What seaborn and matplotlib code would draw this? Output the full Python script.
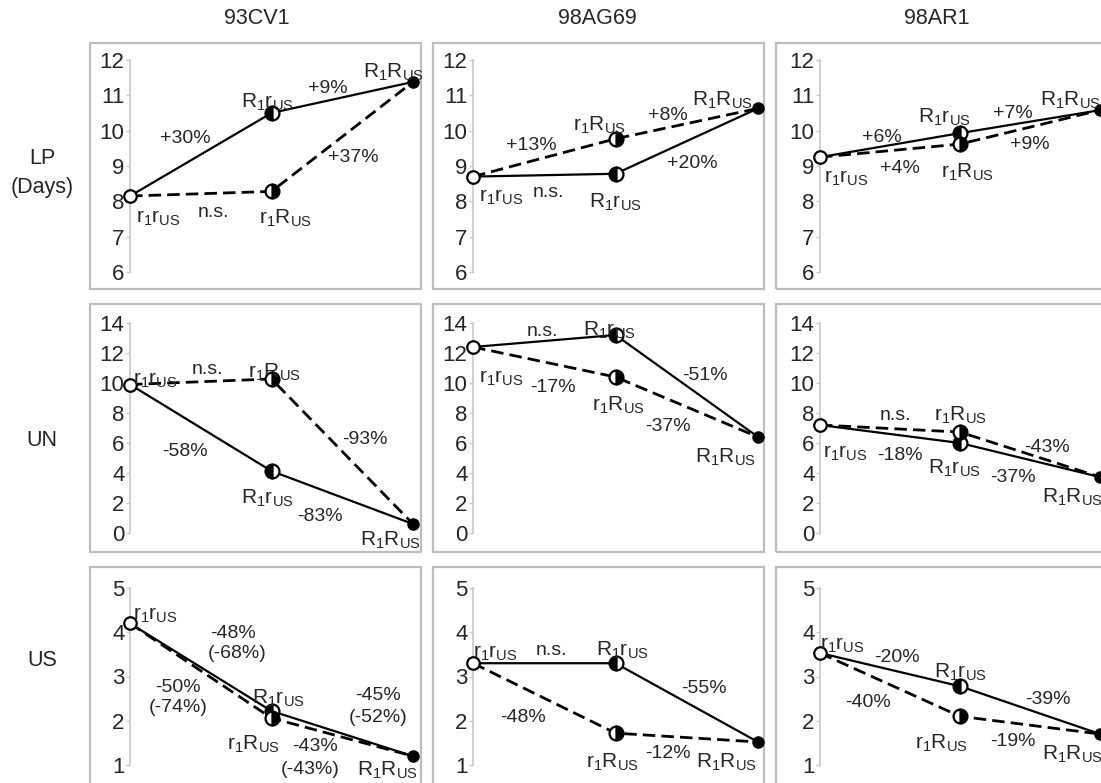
import matplotlib
matplotlib.use("Agg")
import matplotlib.pyplot as plt
from matplotlib.patches import Rectangle
import seaborn as sns
import pandas as pd

# ---------------- data ----------------
strains = ["93CV1", "98AG69", "98AR1"]
traits = ["LP", "UN", "US"]
row_labels = ["LP\n(Days)", "UN", "US"]

# genotype means per trait, one value per strain
LP_r1rUS = [8.15, 8.70, 9.25]
LP_R1rUS = [10.50, 8.78, 9.93]
LP_r1RUS = [8.28, 9.77, 9.62]
LP_R1RUS = [11.38, 10.63, 10.58]

UN_r1rUS = [9.90, 12.40, 7.20]
UN_R1rUS = [4.13, 13.20, 6.00]
UN_r1RUS = [10.27, 10.40, 6.73]
UN_R1RUS = [0.60, 6.40, 3.73]

US_r1rUS = [4.20, 3.30, 3.53]
US_R1rUS = [2.22, 3.30, 2.78]
US_r1RUS = [2.06, 1.72, 2.10]
US_R1RUS = [1.20, 1.52, 1.70]

values = {
    "LP": (LP_r1rUS, LP_R1rUS, LP_r1RUS, LP_R1RUS),
    "UN": (UN_r1rUS, UN_R1rUS, UN_r1RUS, UN_R1RUS),
    "US": (US_r1rUS, US_R1rUS, US_r1RUS, US_R1RUS),
}

y_ranges = {"LP": (6, 12, 1), "UN": (0, 14, 2), "US": (1, 5, 1)}

L_rr = r"r$_\mathrm{1}$r$_\mathrm{US}$"
L_Rr = r"R$_\mathrm{1}$r$_\mathrm{US}$"
L_rR = r"r$_\mathrm{1}$R$_\mathrm{US}$"
L_RR = r"R$_\mathrm{1}$R$_\mathrm{US}$"
GENO = {L_rr, L_Rr, L_rR, L_RR}

# text annotations per panel: (text, x, y) in data coordinates
annotations = {
    ("LP", 0): [("+30%", 0.39, 9.79), ("+9%", 1.40, 11.2), ("+37%", 1.58, 9.23), ("n.s.", 0.59, 7.67),
                (L_Rr, 0.97, 10.8), (L_rR, 1.10, 7.53), (L_rr, 0.20, 7.53), (L_RR, 1.86, 11.66)],
    ("LP", 1): [("+13%", 0.41, 9.57), ("+8%", 1.37, 10.44), ("+20%", 1.54, 9.08), ("n.s.", 0.53, 8.24),
                (L_rr, 0.20, 8.12), (L_Rr, 1.00, 7.98), (L_rR, 0.89, 10.16), (L_RR, 1.75, 10.87)],
    ("LP", 2): [("+6%", 0.44, 9.82), ("+4%", 0.57, 8.94), ("+7%", 1.38, 10.5), ("+9%", 1.50, 9.62),
                (L_rr, 0.19, 8.66), (L_Rr, 0.89, 10.39), (L_rR, 1.05, 8.83), (L_RR, 1.79, 10.87)],
    ("UN", 0): [(L_rr, 0.18, 10.2), ("n.s.", 0.55, 10.87), (L_rR, 1.02, 10.73), ("-58%", 0.39, 5.4),
                ("-93%", 1.66, 6.2), (L_Rr, 0.97, 2.33), ("-83%", 1.34, 1.07), (L_RR, 1.84, -0.47)],
    ("UN", 1): [("n.s.", 0.49, 13.4), (L_Rr, 0.96, 13.53), (L_rr, 0.20, 10.33), ("-17%", 0.56, 9.67),
                (L_rR, 1.02, 8.53), ("-51%", 1.63, 10.53), ("-37%", 1.37, 7.13), (L_RR, 1.77, 5.07)],
    ("UN", 2): [("n.s.", 0.54, 7.8), (L_rR, 1.00, 7.87), (L_rr, 0.18, 5.33), ("-18%", 0.57, 5.2),
                (L_Rr, 0.96, 4.33), ("-43%", 1.62, 5.73), ("-37%", 1.38, 3.67), (L_RR, 1.80, 2.4)],
    ("US", 0): [(L_rr, 0.18, 4.39), ("-48%", 0.73, 3.98), ("(-68%)", 0.76, 3.53), ("-50%", 0.34, 2.76),
                ("(-74%)", 0.34, 2.29), (L_Rr, 1.05, 2.51), (L_rR, 0.87, 1.47), ("-45%", 1.75, 2.58),
                ("(-52%)", 1.75, 2.08), ("-43%", 1.31, 1.41), ("(-43%)", 1.27, 0.89), (L_RR, 1.82, 0.89)],
    ("US", 1): [(L_rr, 0.16, 3.53), ("n.s.", 0.55, 3.58), (L_Rr, 1.05, 3.58), ("-48%", 0.35, 2.08),
                (L_rR, 0.98, 1.07), ("-12%", 1.37, 1.27), (L_RR, 1.78, 1.07), ("-55%", 1.62, 2.72)],
    ("US", 2): [(L_rr, 0.16, 3.71), ("-20%", 0.55, 3.42), (L_Rr, 1.00, 3.10), ("-40%", 0.34, 2.42),
                (L_rR, 0.87, 1.50), ("-39%", 1.63, 2.47), ("-19%", 1.38, 1.52), (L_RR, 1.80, 1.23)],
}

# ---------------- layout (pixels) ----------------
W, H = 1101, 783
col_axis = [(130, 413), (473, 758), (820, 1100)]
row_axis = [(60, 272), (323, 533), (588, 765)]
col_frame = [(90, 421), (433, 764), (776, 1112)]
row_frame = [(43, 289), (304, 552), (567, 792)]
title_x = [257, 597, 937]
row_label_y = [173, 440, 660]

sns.set_style("white")
plt.rcParams["font.family"] = ["Liberation Sans", "DejaVu Sans"]
plt.rcParams["mathtext.fontset"] = "custom"
plt.rcParams["mathtext.rm"] = "Liberation Sans"
plt.rcParams["mathtext.it"] = "Liberation Sans:italic"
plt.rcParams["mathtext.bf"] = "Liberation Sans:bold"

fig = plt.figure(figsize=(W / 100, H / 100), dpi=100)
fig.patch.set_facecolor("white")

FS = 14

for c, name in enumerate(strains):
    fig.text(title_x[c] / W, 1 - 18 / H, name, ha="center", va="center", fontsize=15.5)
for r, lab in enumerate(row_labels):
    fig.text(42 / W, 1 - row_label_y[r] / H, lab, ha="center", va="center", fontsize=15.5,
             linespacing=1.5)

for r, trait in enumerate(traits):
    rr, Rr, rR, RR = values[trait]
    lo, hi, step = y_ranges[trait]
    for c in range(3):
        # frame
        fx0, fx1 = col_frame[c]
        fy0, fy1 = row_frame[r]
        fig.add_artist(Rectangle((fx0 / W, 1 - fy1 / H), (fx1 - fx0) / W, (fy1 - fy0) / H,
                                 transform=fig.transFigure, fill=False, edgecolor="#bdbdbd",
                                 linewidth=1.6, zorder=0))
        ax0, ax1 = col_axis[c]
        ay0, ay1 = row_axis[r]
        ax = fig.add_axes([ax0 / W, 1 - ay1 / H, (ax1 - ax0) / W, (ay1 - ay0) / H])
        ax.patch.set_alpha(0)

        df = pd.DataFrame({
            "x": [0, 1, 2, 0, 1, 2],
            "y": [rr[c], Rr[c], RR[c], rr[c], rR[c], RR[c]],
            "path": ["R1 first"] * 3 + ["RUS first"] * 3,
        })
        sns.lineplot(data=df, x="x", y="y", style="path",
                     dashes={"R1 first": "", "RUS first": (4.5, 2.2)},
                     color="black", legend=False, ax=ax, sort=False)
        for ln, lw in zip(ax.lines, [1.6, 2.0]):
            ln.set_linewidth(lw)
            ln.set_clip_on(False)

        # markers
        ax.plot([0], [rr[c]], "o", ms=9, mfc="white", mec="black", mew=1.6, zorder=5, clip_on=False)
        ax.plot([1], [Rr[c]], "o", ms=10, fillstyle="left", mfc="black", mfcalt="white",
                mec="black", mew=1.6, zorder=5, clip_on=False)
        ax.plot([1], [rR[c]], "o", ms=10, fillstyle="right", mfc="black", mfcalt="white",
                mec="black", mew=1.6, zorder=5, clip_on=False)
        ax.plot([2], [RR[c]], "o", ms=8, mfc="black", mec="black", zorder=5, clip_on=False)

        for txt, tx, ty in annotations[(trait, c)]:
            fs = 15 if txt in GENO else FS
            ax.text(tx, ty, txt, ha="center", va="center", fontsize=fs, clip_on=False, zorder=6)

        ax.set_xlim(0, 2)
        ax.set_ylim(lo, hi)
        ax.set_yticks(list(range(lo, hi + 1, step)))
        ax.set_xticks([])
        ax.set_xlabel("")
        ax.set_ylabel("")
        for s in ["top", "right", "bottom"]:
            ax.spines[s].set_visible(False)
        ax.spines["left"].set_color("#c8c8c8")
        ax.spines["left"].set_linewidth(1.2)
        ax.tick_params(axis="y", length=3, width=1, color="#c8c8c8", pad=1, labelsize=16,
                       direction="out", left=True)

fig.savefig("out.png", dpi=100, facecolor="white")
